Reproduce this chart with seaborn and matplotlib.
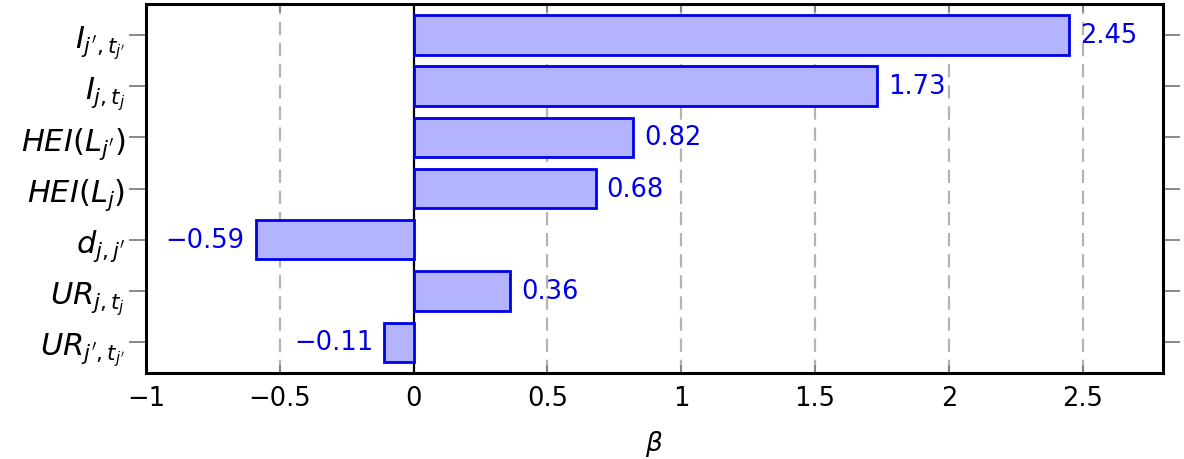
import numpy as np
import pandas as pd
import matplotlib
matplotlib.use('Agg')
import matplotlib.pyplot as plt
import seaborn as sns

# Regression coefficients (top to bottom as in the figure)
features = [r"$I_{j',t_{j'}}$", r"$I_{j,t_j}$", r"$HEI(L_{j'})$", r"$HEI(L_j)$",
            r"$d_{j,j'}$", r"$UR_{j,t_j}$", r"$UR_{j',t_{j'}}$"]
betas = [2.45, 1.73, 0.82, 0.68, -0.59, 0.36, -0.11]
x_ticks = [-1, -0.5, 0, 0.5, 1, 1.5, 2, 2.5]

sns.set_theme(style="white")
plt.rcParams['font.family'] = ['DejaVu Sans']
plt.rcParams['mathtext.fontset'] = 'dejavusans'

fill_col = '#B3B3FF'
edge_col = '#0000E6'
grid_col = '#B4B4B4'

df = pd.DataFrame({'feature': features, 'beta': betas})

fig = plt.figure(figsize=(11.84, 4.6), dpi=100)
ax = fig.add_axes([0.1233, 0.187, 0.859, 0.802])

# vertical reference line at zero, behind the bars
ax.axvline(0, color='black', lw=1.6, zorder=1)
for t in x_ticks:
    if t != 0:
        ax.axvline(t, color=grid_col, lw=1.6, ls=(0, (6, 3.5)), zorder=0)

sns.barplot(data=df, x='beta', y='feature', orient='h', width=0.77,
            color=fill_col, saturation=1, edgecolor=edge_col, linewidth=2,
            ax=ax, zorder=2)

labels = [f"{v:.2f}".replace('-', '\u2212') for v in betas]
ax.bar_label(ax.containers[0], labels=labels, padding=8, fontsize=18.5, color=edge_col)

ax.set_xlim(-1, 2.8)
ax.set_ylim(6.6, -0.6)
ax.set_xticks(x_ticks)
ax.set_xticklabels([f"{t:g}".replace('-', '\u2212') for t in x_ticks])
ax.set_ylabel('')
ax.set_xlabel(r'$\beta$', fontsize=19, labelpad=12, color='black')

ax.tick_params(axis='x', which='both', direction='in', top=True, bottom=True,
               length=6, width=1.3, color='#808080', labelsize=18.5,
               labelcolor='black', pad=9)
ax.tick_params(axis='y', which='both', direction='out', left=True, right=True,
               length=12, width=1.3, color='#808080', labelsize=22,
               labelcolor='black', pad=3)

for s in ax.spines.values():
    s.set_visible(True)
    s.set_color('black')
    s.set_linewidth(2.2)
    s.set_zorder(5)

fig.savefig('out.png', dpi=100)
